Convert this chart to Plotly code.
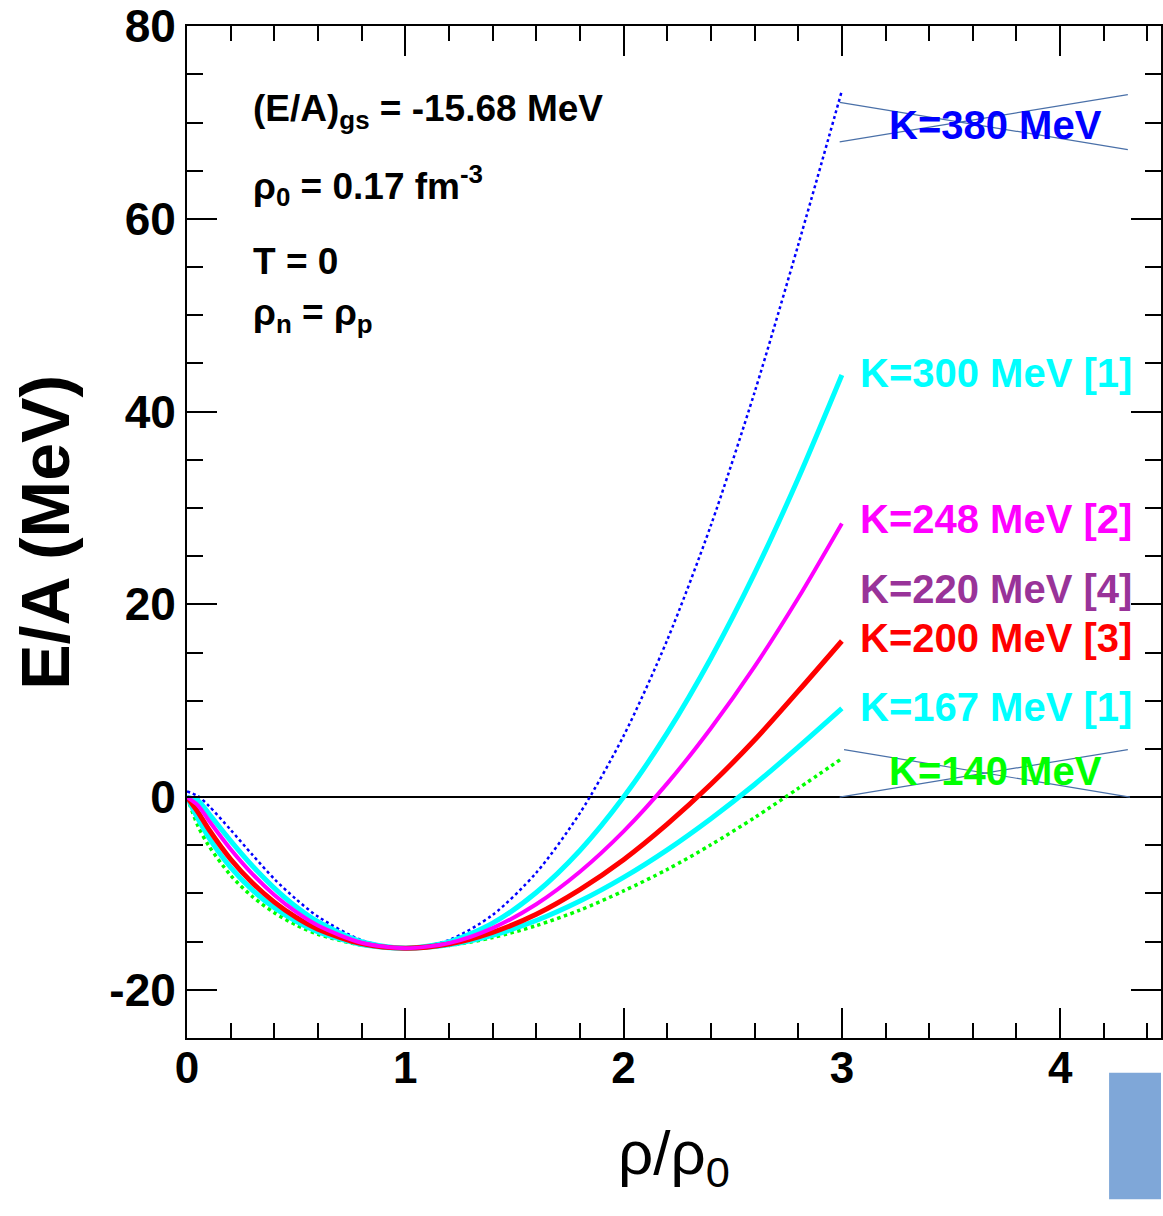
import plotly.graph_objects as go

# ---------------- data ----------------
rho = [0, 0.05, 0.1, 0.2, 0.3, 0.4, 0.5, 0.6, 0.8, 1.0, 1.2, 1.4, 1.6, 1.8,
       2.0, 2.2, 2.4, 2.6, 2.8, 3.0]

ea_k380 = [0.6, 0.1, -0.9, -3.4, -6.0, -8.5, -10.6, -12.4, -14.85, -15.68, -14.83,
           -12.23, -7.85, -1.66, 6.35, 16.3, 28.2, 42.0, 57.3, 73.3]
ea_k300 = [0.0, -0.36, -1.71, -4.54, -7.15, -9.44, -11.38, -12.94, -15.01, -15.68, -15.02,
           -13.08, -9.90, -5.54, 0.0, 6.66, 14.41, 23.21, 33.06, 43.8]
ea_k248 = [0.0, -0.85, -2.43, -5.41, -7.99, -10.15, -11.92, -13.33, -15.11, -15.68, -15.15,
           -13.59, -11.12, -7.75, -3.56, 1.42, 7.15, 13.54, 20.66, 28.4]
ea_k200 = [0.0, -1.55, -3.36, -6.45, -8.91, -10.90, -12.49, -13.71, -15.21, -15.68, -15.25,
           -14.04, -12.15, -9.59, -6.49, -2.80, 1.33, 5.92, 10.99, 16.2]
ea_k167 = [0.0, -2.24, -4.20, -7.30, -9.66, -11.49, -12.90, -13.98, -15.29, -15.68, -15.33,
           -14.35, -12.81, -10.79, -8.33, -5.47, -2.24, 1.31, 5.18, 9.2]
ea_k140 = [0.0, -2.99, -5.06, -8.12, -10.34, -12.00, -13.28, -14.23, -15.36, -15.68, -15.39,
           -14.58, -13.34, -11.73, -9.74, -7.51, -4.95, -2.13, 0.90, 4.0]

x_tick_vals = [0, 1, 2, 3, 4]
x_tick_text = ["0", "1", "2", "3", "4"]
y_tick_vals = [-20, 0, 20, 40, 60, 80]
y_tick_text = ["-20", "0", "20", "40", "60", "80"]

label_texts = ["K=380 MeV", "K=300 MeV [1]", "K=248 MeV [2]", "K=220 MeV [4]",
               "K=200 MeV [3]", "K=167 MeV [1]", "K=140 MeV"]
label_colors = ["#0000ff", "#00ffff", "#ff00ff", "#993399", "#ff0000", "#00ffff", "#00ff00"]
label_y = [69.7, 44.0, 28.9, 21.6, 16.5, 9.3, 2.7]
label_x = 3.705

info_lines = ["(E/A)<sub>gs</sub> = -15.68 MeV", "ρ<sub>0</sub> = 0.17 fm<sup>-3</sup>",
              "T = 0", "ρ<sub>n</sub> = ρ<sub>p</sub>"]
info_y = [0.916, 0.842, 0.767, 0.714]

FONT = "Liberation Sans, Arial, sans-serif"

# ---------------- figure ----------------
fig = go.Figure()

series = [
    (ea_k140, "#00ff00", 3.5, "dot"),
    (ea_k380, "#0000ff", 2.5, "dot"),
    (ea_k300, "#00ffff", 5, "solid"),
    (ea_k167, "#00ffff", 5, "solid"),
    (ea_k200, "#ff0000", 5, "solid"),
    (ea_k248, "#ff00ff", 4, "solid"),
]
for ys, col, w, dash in series:
    fig.add_trace(go.Scatter(x=rho, y=ys, mode="lines",
                             line=dict(color=col, width=w, dash=dash, shape="spline", smoothing=0.8),
                             showlegend=False, hoverinfo="skip"))

# zero line
fig.add_shape(type="line", xref="paper", yref="y", x0=0, x1=1, y0=0, y1=0,
              line=dict(color="black", width=2), layer="below")

# crossed-out labels
cross_col = "#4a70a8"
for (xa, ya, xb, yb) in [(2.99, 72.1, 4.31, 67.2), (2.99, 68.0, 4.31, 72.9),
                         (3.01, 4.93, 4.32, 0.0), (2.99, 0.0, 4.31, 4.93)]:
    fig.add_shape(type="line", x0=xa, y0=ya, x1=xb, y1=yb,
                  line=dict(color=cross_col, width=1.2))

for t, c, yv in zip(label_texts, label_colors, label_y):
    fig.add_annotation(x=label_x, y=yv, text="<b>%s</b>" % t, showarrow=False,
                       xanchor="center", yanchor="middle",
                       font=dict(family=FONT, size=40, color=c))

for t, yv in zip(info_lines, info_y):
    fig.add_annotation(xref="paper", yref="paper", x=0.066, y=yv, text="<b>%s</b>" % t,
                       showarrow=False, xanchor="left", yanchor="middle",
                       font=dict(family=FONT, size=37, color="black"))

# axis titles
fig.add_annotation(xref="paper", yref="paper", x=-0.146, y=0.5, text="<b>E/A (MeV)</b>",
                   textangle=-90, showarrow=False, xanchor="center", yanchor="middle",
                   font=dict(family=FONT, size=68, color="black"))
fig.add_annotation(xref="paper", yref="paper", x=0.500, y=-0.118, text="ρ/ρ<sub>0</sub>",
                   showarrow=False, xanchor="center", yanchor="middle",
                   font=dict(family=FONT, size=62, color="black"))

# blue rectangle bottom-right
fig.add_shape(type="rect", xref="paper", yref="paper", x0=0.9467, x1=1.0, y0=-0.1594, y1=-0.0344,
              fillcolor="#7fa7d8", line=dict(width=0))

axis_common = dict(showline=True, linecolor="black", linewidth=2, mirror="allticks",
                   ticks="inside", tickcolor="black", tickwidth=2, ticklen=30,
                   showgrid=False, zeroline=False, ticklabeloverflow="allow")

fig.update_xaxes(range=[0, 4.462], tickvals=x_tick_vals, ticktext=[f"<b>{t}</b>" for t in x_tick_text],
                 ticklabelstandoff=-10,
                 tickfont=dict(family=FONT, size=44, color="black"),
                 minor=dict(dtick=0.2, tick0=0, ticks="inside", ticklen=15, tickwidth=2, tickcolor="black"),
                 **axis_common)
fig.update_yaxes(range=[-25, 80.02], tickvals=y_tick_vals, ticktext=[f"<b>{t}</b>" for t in y_tick_text],
                 ticklabelstandoff=0,
                 tickfont=dict(family=FONT, size=46, color="black"),
                 minor=dict(dtick=5, tick0=0, ticks="inside", ticklen=16, tickwidth=2, tickcolor="black"),
                 **axis_common)

fig.update_layout(width=1163, height=1216, margin=dict(l=187, r=0, t=22, b=178),
                  plot_bgcolor="white", paper_bgcolor="white",
                  font=dict(family=FONT))

fig.write_html("out.html")
